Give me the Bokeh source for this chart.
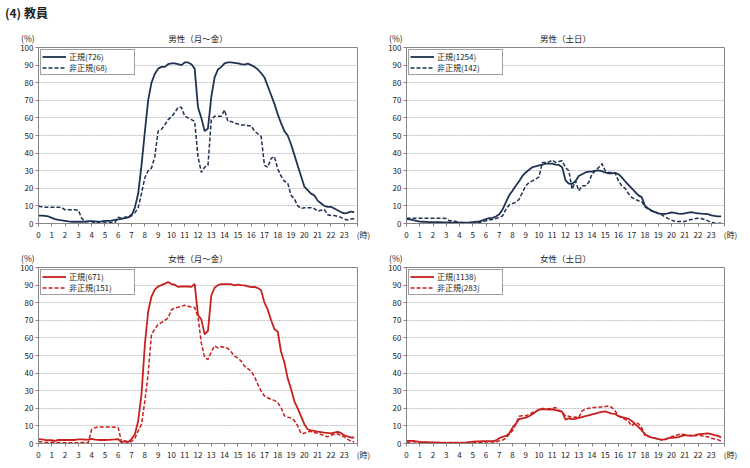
from bokeh.plotting import figure
from bokeh.layouts import column, row
from bokeh.models import (FixedTicker, Legend, LegendItem, LinearAxis, Div,
                          ColumnDataSource)
from bokeh.embed import file_html
from bokeh.resources import INLINE

FONT = "Noto Sans CJK JP"

# time of day in hours, 15-minute steps
hours = [i / 4 for i in range(96)]

x_ticks = list(range(0, 25))
y_ticks = list(range(0, 101, 10))

header_text = "(4) 教員"
titles = ["男性（月～金）", "男性（土日）", "女性（月～金）", "女性（土日）"]
legend_regular = ["正規(726)", "正規(1254)", "正規(671)", "正規(1138)"]
legend_nonregular = ["非正規(68)", "非正規(142)", "非正規(151)", "非正規(283)"]
y_unit = "(%)"
x_unit = "(時)"

men_weekday_regular = [
    4.5, 4.5, 4.3, 4.0, 3.2, 2.5, 2.0, 1.8, 1.5, 1.2, 1.0, 1.0,
    1.0, 1.0, 1.1, 1.3, 1.3, 1.2, 1.0, 1.2, 1.5, 1.5, 1.6, 2.0,
    2.3, 2.6, 3.0, 3.5, 4.5, 9, 17, 33, 52, 70, 80, 85,
    88, 89, 89, 90.5, 91, 91, 90.5, 90, 91.5, 91.5, 90.5, 88,
    66, 60, 52.5, 54, 72, 83, 87.5, 89, 91, 91.5, 91.5, 91.3,
    91, 90.5, 90.3, 90.8, 90, 89, 87.5, 85.5, 83, 78, 73, 68,
    62, 57, 52.5, 50, 45, 39, 33, 27, 21, 19, 17, 16,
    13, 11.5, 10, 9.5, 9.5, 8.5, 7.5, 6.5, 5.8, 6, 6.8, 6.5,
]
men_weekday_nonregular = [
    9.8, 9.5, 9.3, 9.3, 9.3, 9.3, 9.3, 9.0, 7.8, 7.8, 7.8, 7.8,
    7.5, 3.0, 1.0, 1.0, 1.0, 0.5, 0.5, 0.0, 0.5, 0.5, 0.5, 0.5,
    3.5, 3.0, 3.5, 4.0, 5.0, 6.0, 9.0, 17, 26, 30, 31.5, 38,
    52.5, 53.5, 56, 59, 60.5, 63, 66, 66, 61, 60, 59, 58,
    38, 29, 32, 33, 59, 61, 61, 61, 64.5, 58, 58, 57,
    56.5, 56, 56, 55.5, 55.5, 52.5, 51, 49.5, 33, 32, 37, 38,
    31, 27, 24, 23, 16, 14, 10, 8.5, 9, 9, 9, 8.5,
    7, 7.5, 8, 5, 4.5, 4.5, 4, 3.5, 2.5, 2, 2.5, 2.7,
]
men_weekend_regular = [
    2.5, 2.3, 1.9, 1.5, 1.1, 1.0, 0.9, 0.8, 0.8, 0.7, 0.7, 0.6,
    0.6, 0.6, 0.5, 0.5, 0.5, 0.5, 0.5, 0.6, 0.8, 1.0, 1.2, 1.8,
    2.5, 3.0, 3.2, 4.0, 5.3, 8.0, 12, 16, 18.6, 21.4, 24, 27,
    29, 30.5, 32, 32.5, 33, 33.5, 34, 34, 34, 33.5, 33.3, 32,
    24.5, 22.7, 22.5, 24, 27, 28, 29, 29.5, 29.5, 30, 30.2, 29.8,
    29, 28.5, 28.5, 28.8, 28, 26.2, 24, 22, 20, 18, 16, 15,
    10, 8.5, 7.2, 6.5, 5.8, 5.5, 5.5, 5.8, 6.3, 6.0, 5.6, 5.5,
    5.8, 6.2, 6.4, 6.0, 5.8, 5.6, 5.5, 5.3, 4.6, 4.3, 4.1, 4.0,
]
men_weekend_nonregular = [
    3.0, 3.0, 3.0, 3.0, 3.0, 3.0, 3.0, 3.0, 3.0, 3.0, 3.0, 3.0,
    2.8, 1.5, 1.5, 1.2, 0.5, 0.5, 0.4, 0.4, 0.4, 0.4, 0.6, 1.0,
    1.5, 2.0, 2.3, 2.8, 3.4, 4.3, 8.0, 10.6, 11.4, 12, 13.8, 17.6,
    21.4, 23.3, 24.2, 25.2, 26.5, 34.7, 34.7, 35, 36, 34.7, 35.2, 35.6,
    31.8, 30, 19.5, 24.2, 18.6, 21.4, 21.4, 23.3, 28, 30, 31.8, 34,
    30, 29, 29, 28.5, 24.2, 21.4, 20, 17, 14.8, 13.8, 12.9, 12.5,
    9.5, 8.1, 7.2, 6.8, 5.7, 5.0, 3.8, 2.8, 1.9, 1.3, 1.1, 1.1,
    1.1, 1.9, 2.3, 2.7, 3.0, 2.8, 2.3, 1.5, 0.6, 0.3, 0.2, 0.2,
]
women_weekday_regular = [
    2.5, 2.3, 2.0, 1.9, 1.9, 1.5, 2.0, 2.0, 2.0, 2.0, 2.0, 2.0,
    2.4, 2.3, 2.2, 2.2, 2.6, 2.2, 2.0, 2.0, 2.0, 2.1, 2.2, 2.3,
    2.5, 0.6, 1.5, 0.8, 2.5, 5.3, 12.8, 28, 56, 75, 83.5, 87.4,
    89.2, 90, 90.8, 91.7, 90.6, 90.2, 89, 89.2, 89.2, 89.2, 89, 90.6,
    73, 70.5, 62, 64, 84, 88.5, 90, 90.5, 90.6, 90.6, 90.5, 89.8,
    90.3, 90, 89.8, 89.3, 88.8, 89, 88.3, 87, 80, 76, 70, 65,
    63.5, 52, 46, 37, 31, 24, 20, 15.5, 11, 8.1, 7.5, 7.2,
    6.8, 6.5, 6.2, 6.0, 5.8, 6.2, 6.6, 6.0, 4.7, 4.0, 3.4, 3.4,
]
women_weekday_nonregular = [
    1.1, 0.8, 0.6, 0.7, 0.8, 0.6, 0.6, 0.5, 0.4, 0.4, 0.4, 0.4,
    0.4, 0.5, 0.5, 0.6, 8.0, 9.0, 9.4, 9.4, 9.4, 9.4, 9.4, 9.2,
    9.0, 0.8, 1.1, 0.6, 1.1, 3.0, 7.2, 11, 24, 39.5, 62, 65,
    67.7, 68.7, 70, 71.3, 76, 77, 77.4, 78, 78.5, 78, 77.5, 77.3,
    72, 57, 49, 47.7, 52, 55.5, 54.3, 55, 54.7, 54, 52, 49.6,
    48.5, 46.8, 44, 42.5, 41, 38, 33.6, 29.8, 27, 26, 25, 24.5,
    23.2, 20.4, 15.7, 15, 14.5, 13, 10, 5.7, 5.8, 6.8, 6.8, 6.3,
    5.8, 5.2, 4.5, 3.8, 4.7, 5.3, 5.5, 4.5, 3.8, 2.5, 1.3, 0.9,
]
women_weekend_regular = [
    1.5, 1.5, 1.5, 1.2, 0.9, 0.8, 0.7, 0.6, 0.6, 0.5, 0.5, 0.4,
    0.4, 0.4, 0.4, 0.4, 0.4, 0.4, 0.5, 0.8, 1.1, 1.2, 1.2, 1.3,
    1.3, 1.3, 1.4, 1.7, 3.0, 3.8, 4.3, 5.7, 9.0, 11.3, 13.8, 14.3,
    14.7, 15.5, 16.6, 18, 19.4, 19.5, 19.4, 19.2, 19.4, 19.0, 18.5, 18.0,
    13.5, 14.3, 13.8, 14, 14.5, 15, 15.5, 16, 16.5, 17, 17.5, 18,
    18.2, 17.5, 17, 16.8, 15.5, 15, 14.5, 14, 12.8, 11, 9.5, 7.5,
    5.3, 4.2, 3.4, 3.0, 2.5, 2.2, 2.4, 3.0, 3.2, 3.4, 3.6, 4.2,
    4.7, 4.5, 4.4, 4.6, 5.2, 5.5, 5.6, 5.8, 5.3, 4.8, 4.3, 3.4,
]
women_weekend_nonregular = [
    0.6, 0.8, 1.1, 0.8, 0.6, 0.6, 0.5, 0.5, 0.5, 0.5, 0.5, 0.5,
    0.5, 0.5, 0.5, 0.5, 0.5, 0.5, 0.5, 0.6, 0.6, 0.7, 0.7, 0.7,
    0.8, 0.8, 0.8, 0.8, 1.5, 1.9, 3.0, 5.3, 7.2, 11, 15.5, 15.7,
    15.7, 16.5, 17.5, 18.3, 19, 20, 19.4, 19.8, 20, 20.4, 19, 18,
    15.7, 15.5, 14.7, 15, 14.7, 18.5, 19.5, 20, 20.4, 20.5, 20.8, 20.8,
    21, 21.3, 20.5, 18.5, 15.7, 14.5, 13.8, 12.5, 10, 11.9, 11.3, 9,
    4.5, 4, 3.5, 3.0, 2.5, 2.0, 2.2, 3.0, 3.8, 4.5, 5.0, 5.5,
    5.0, 4.7, 4.5, 4.4, 4.5, 4.5, 4.0, 3.8, 3.0, 2.6, 2.2, 1.3,
]

MEN_COLOR = "#1f3251"
WOMEN_COLOR = "#c8201f"
AXIS_GRAY = "#868686"
TEXT = "#222222"


def make_panel(title, reg, non, reg_label, non_label, color, width, height,
               mbl, mbr, mbt, mbb):
    p = figure(width=width, height=height, x_range=(0, 24), y_range=(0, 100),
               output_backend="svg", toolbar_location=None,
               min_border_left=mbl, min_border_right=mbr,
               min_border_top=mbt, min_border_bottom=mbb)
    p.title_location = None

    xaxis = p.below[0]
    yaxis = p.left[0]
    xaxis.ticker = FixedTicker(ticks=x_ticks)
    yaxis.ticker = FixedTicker(ticks=y_ticks)
    xaxis.major_label_overrides = {24: "\u2002\u2002\u2002" + x_unit}
    for ax in (xaxis, yaxis):
        ax.axis_line_color = AXIS_GRAY
        ax.major_tick_line_color = AXIS_GRAY
        ax.minor_tick_line_color = None
        ax.major_tick_in = 0
        ax.major_tick_out = 3
        ax.major_label_text_font = FONT
        ax.major_label_text_font_size = "8px"
        ax.major_label_text_color = TEXT
        ax.major_label_standoff = 2

    # one row above the frame: unit "(%)" on the left, panel title centred
    top_axis = LinearAxis(ticker=FixedTicker(ticks=[0, 12]))
    top_axis.major_label_overrides = {
        0: y_unit + "\u2002\u2002\u2002\u2002\u2002", 12: title}
    top_axis.axis_line_color = None
    top_axis.major_tick_line_color = None
    top_axis.minor_tick_line_color = None
    top_axis.major_tick_in = 0
    top_axis.major_tick_out = 0
    top_axis.major_label_standoff = 4
    top_axis.major_label_text_font = FONT
    top_axis.major_label_text_font_size = "8.5px"
    top_axis.major_label_text_color = TEXT
    p.add_layout(top_axis, "above")

    src = ColumnDataSource(dict(h=hours, reg=reg, non=non))
    r1 = p.line("h", "reg", source=src, line_color=color, line_width=1.8)
    r2 = p.line("h", "non", source=src, line_color=color, line_width=1.5,
                line_dash="4 2")

    legend = Legend(items=[LegendItem(label=reg_label, renderers=[r1]),
                           LegendItem(label=non_label, renderers=[r2])],
                    location="top_left")
    legend.border_line_color = "#404040"
    legend.border_line_width = 1
    legend.background_fill_color = "white"
    legend.background_fill_alpha = 1
    legend.padding = 1
    legend.spacing = 0
    legend.margin = 2
    legend.glyph_width = 24
    legend.glyph_height = 9
    legend.label_height = 9
    legend.label_width = 64
    legend.label_standoff = 3
    legend.label_text_font = FONT
    legend.label_text_font_size = "8px"
    legend.label_text_line_height = 1.0
    legend.label_text_color = TEXT
    p.add_layout(legend)

    p.xgrid.visible = False
    p.ygrid.ticker = FixedTicker(ticks=y_ticks)
    p.ygrid.grid_line_color = "#c0c0c0"
    p.ygrid.grid_line_dash = "2 1"
    p.ygrid.grid_line_width = 1
    p.outline_line_color = AXIS_GRAY
    p.outline_line_width = 1
    return p


header = Div(text=header_text, width=750, height=20,
             styles={"font-family": FONT, "font-size": "12px",
                     "font-weight": "bold", "color": TEXT,
                     "padding-left": "5px", "padding-top": "6px",
                     "margin": "0", "line-height": "14px"})

p1 = make_panel(titles[0], men_weekday_regular, men_weekday_nonregular,
                legend_regular[0], legend_nonregular[0], MEN_COLOR,
                375, 225, 38, 18, 27, 22)
p2 = make_panel(titles[1], men_weekend_regular, men_weekend_nonregular,
                legend_regular[1], legend_nonregular[1], MEN_COLOR,
                375, 225, 31, 26, 27, 22)
p3 = make_panel(titles[2], women_weekday_regular, women_weekday_nonregular,
                legend_regular[2], legend_nonregular[2], WOMEN_COLOR,
                375, 221, 38, 18, 22, 23)
p4 = make_panel(titles[3], women_weekend_regular, women_weekend_nonregular,
                legend_regular[3], legend_nonregular[3], WOMEN_COLOR,
                375, 221, 31, 26, 22, 23)

layout = column(header, row(p1, p2), row(p3, p4))

with open("out.html", "w") as f:
    f.write(file_html(layout, INLINE))
